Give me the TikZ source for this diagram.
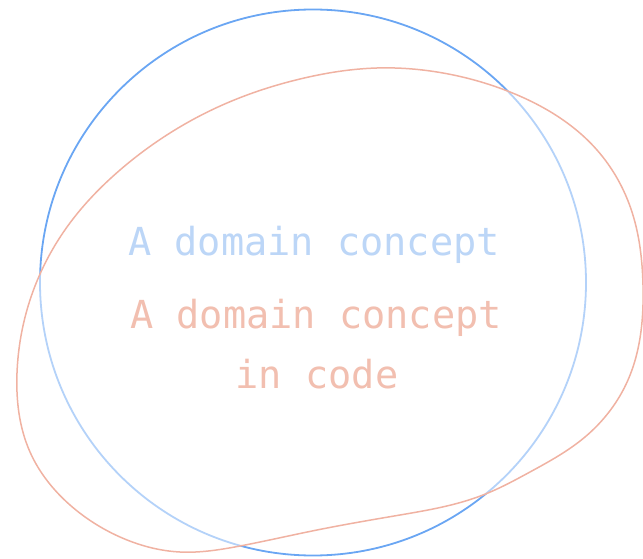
\documentclass[tikz,border=0pt]{standalone}
\usepackage{fontspec}
\usetikzlibrary{hobby}
\newfontfamily\codefont{DejaVu Sans Mono}
\definecolor{blueline}{HTML}{6AA6F3}
\definecolor{bluetext}{HTML}{79ADF0}
\definecolor{orangeline}{HTML}{F0B2A2}
\definecolor{orangetext}{HTML}{F2BFB0}
\tikzset{
  labeltext/.style={font=\codefont\fontsize{38.6}{44}\selectfont, inner sep=0pt, anchor=base},
}
\begin{document}
\begin{tikzpicture}[x=1pt,y=-1pt]
\useasboundingbox (0,0) rectangle (643,559);
% domain circle
\draw[blueline, line width=1.8pt] (313,282.5) circle[radius=273];
\node[labeltext, text=bluetext] (domain) at (314,255) {A domain concept};
% code blob: half-transparent white fill lightens what lies below
\draw[orangeline, line width=1.5pt, fill=white, fill opacity=0.5, use Hobby shortcut, closed=true]
  (377,68) .. (443,73) .. (510,92) .. (597,150) .. (632,212) .. (643,285) ..
  (628,380) .. (585,437) .. (530,472) .. (483,495) .. (400,515) .. (317,530) ..
  (240,546) .. (180,552) .. (120,537) .. (70,505) .. (30,452) .. (17,373) ..
  (30,300) .. (67,227) .. (120,170) .. (227,103) .. (300,79);
\node[labeltext, text=orangetext] (code1) at (316,328) {A domain concept};
\node[labeltext, text=orangetext] (code2) at (317,388) {in code};
\end{tikzpicture}
\end{document}
